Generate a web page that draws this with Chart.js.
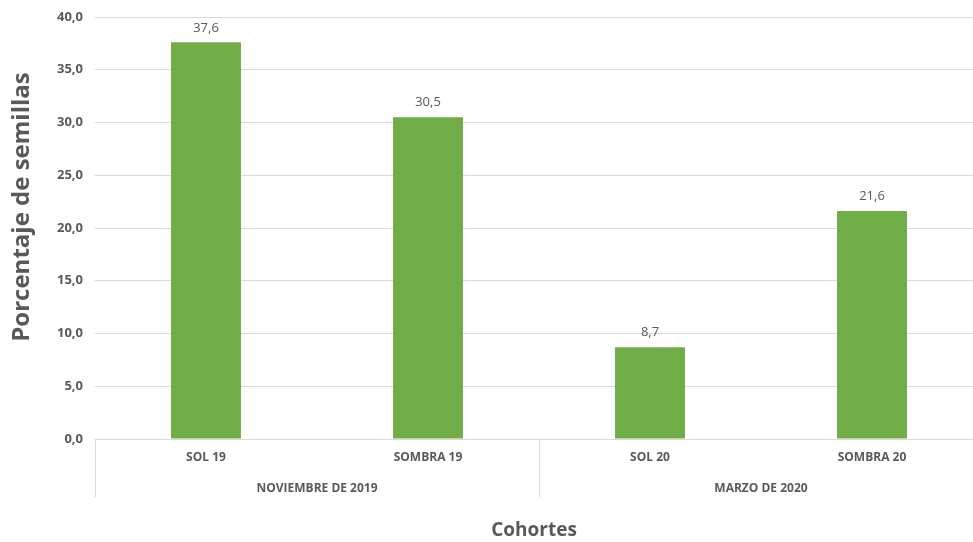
<!DOCTYPE html>
<html lang="es">
<head>
    <meta charset="UTF-8">
    <title>Porcentaje de semillas por cohorte</title>
    <script src="https://cdn.jsdelivr.net/npm/chart.js"></script>
    <style>
        html, body { margin: 0; padding: 0; background: #fff; overflow: hidden; }
        /* el área de trazado continúa un poco más allá del borde derecho, como en el original */
        .chart-container { width: 983px; height: 542px; position: relative; }
    </style>
</head>
<body>
    <div class="chart-container">
        <canvas id="barChart"></canvas>
    </div>

    <script>
        // Datos
        const categories = ['SOL 19', 'SOMBRA 19', 'SOL 20', 'SOMBRA 20'];
        const groups = ['NOVIEMBRE DE 2019', 'MARZO DE 2020'];
        const values = [37.6, 30.5, 8.7, 21.6];
        const yTicks = [0, 5, 10, 15, 20, 25, 30, 35, 40];

        const textColor = '#595959';
        const gridColor = '#d9d9d9';
        const fontFamily = "'Open Sans', 'Noto Sans', sans-serif";

        const fmt = v => v.toFixed(1).replace('.', ',');

        // Etiquetas de valor encima de las barras
        const valueLabels = {
            id: 'valueLabels',
            afterDatasetsDraw(chart) {
                const ctx = chart.ctx;
                const meta = chart.getDatasetMeta(0);
                ctx.save();
                ctx.font = '13px ' + fontFamily;
                ctx.fillStyle = textColor;
                ctx.textAlign = 'center';
                ctx.textBaseline = 'bottom';
                meta.data.forEach((bar, i) => {
                    ctx.fillText(fmt(values[i]), bar.x, bar.y - 8);
                });
                ctx.restore();
            }
        };

        // Separadores del eje de categorías agrupado + títulos de ejes
        const groupSeparators = {
            id: 'groupSeparators',
            afterDraw(chart) {
                const ctx = chart.ctx;
                const x = chart.scales.x;
                const x2 = chart.scales.x2;
                const area = chart.chartArea;
                const mid = (x.getPixelForValue(1) + x.getPixelForValue(2)) / 2;
                const lines = [area.left, mid];
                ctx.save();
                ctx.strokeStyle = gridColor;
                ctx.lineWidth = 1;
                lines.forEach(px => {
                    const xx = Math.round(px) + 0.5;
                    ctx.beginPath();
                    ctx.moveTo(xx, area.bottom);
                    ctx.lineTo(xx, x2.top + 22);
                    ctx.stroke();
                });

                ctx.fillStyle = textColor;
                ctx.textAlign = 'center';
                ctx.textBaseline = 'middle';

                // título del eje X
                ctx.font = 'bold 19px ' + fontFamily;
                ctx.fillText('Cohortes', 534, 531);

                // título del eje Y
                ctx.translate(22, 207);
                ctx.rotate(-Math.PI / 2);
                ctx.font = 'bold 24px ' + fontFamily;
                ctx.fillText('Porcentaje de semillas', 0, 0);
                ctx.restore();
            }
        };

        document.addEventListener('DOMContentLoaded', function() {
            const ctx = document.getElementById('barChart').getContext('2d');

            new Chart(ctx, {
                type: 'bar',
                data: {
                    labels: categories,
                    datasets: [{
                        label: 'Porcentaje de semillas',
                        data: values,
                        backgroundColor: '#70ad47',
                        borderWidth: 0,
                        categoryPercentage: 1,
                        barPercentage: 0.315
                    }]
                },
                options: {
                    responsive: true,
                    maintainAspectRatio: false,
                    animation: false,
                    layout: { padding: { top: 17, right: 0, left: 0, bottom: 0 } },
                    scales: {
                        y: {
                            min: 0,
                            max: 40,
                            afterBuildTicks(scale) {
                                scale.ticks = yTicks.map(v => ({ value: v }));
                            },
                            afterFit(scale) {
                                scale.width = 95;
                                scale.paddingTop = 0;
                                scale.paddingBottom = 0;
                            },
                            ticks: {
                                color: textColor,
                                padding: 12,
                                font: { family: fontFamily, size: 13, weight: 'bold' },
                                callback: v => fmt(v)
                            },
                            grid: {
                                color: gridColor,
                                drawTicks: false
                            },
                            border: { display: false }
                        },
                        x: {
                            afterFit(scale) {
                                scale.height = 36;
                                scale.paddingLeft = 0;
                                scale.paddingRight = 0;
                            },
                            ticks: {
                                color: textColor,
                                padding: 11,
                                font: { family: fontFamily, size: 12, weight: 'bold' }
                            },
                            grid: { display: false, drawTicks: false },
                            border: { display: false }
                        },
                        x2: {
                            type: 'category',
                            position: 'bottom',
                            labels: groups,
                            offset: true,
                            weight: 1,
                            afterFit(scale) {
                                scale.height = 67;
                                scale.paddingLeft = 0;
                                scale.paddingRight = 0;
                            },
                            ticks: {
                                color: textColor,
                                padding: 6,
                                font: { family: fontFamily, size: 12, weight: 'bold' }
                            },
                            grid: { display: false, drawTicks: false },
                            border: { display: false }
                        }
                    },
                    plugins: {
                        legend: { display: false },
                        tooltip: { enabled: false }
                    }
                },
                plugins: [valueLabels, groupSeparators]
            });
        });
    </script>
</body>
</html>
